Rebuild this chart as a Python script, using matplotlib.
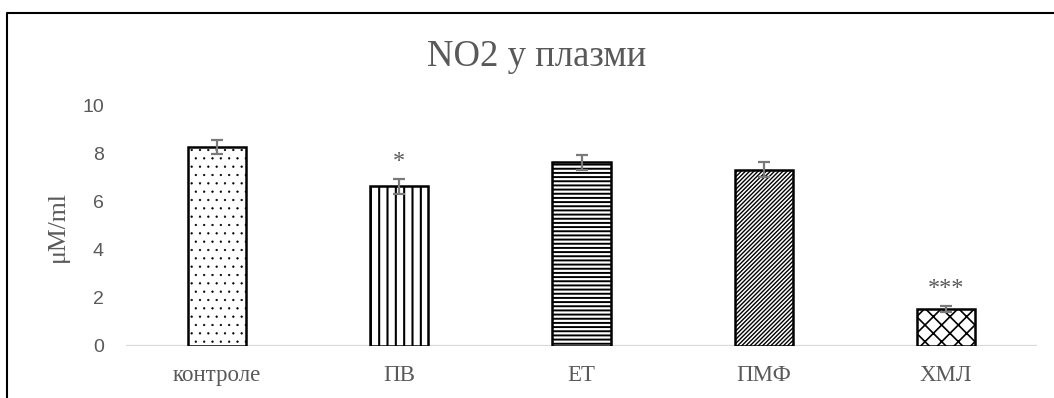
import matplotlib.pyplot as plt
from matplotlib.lines import Line2D

# NO2 in plasma, mean +/- error per group
groups = ["контроле", "ПВ", "ЕТ", "ПМФ", "ХМЛ"]
no2 = [8.3, 6.65, 7.65, 7.35, 1.55]
err = [0.3, 0.3, 0.3, 0.32, 0.12]
marks = ["", "*", "", "", "***"]
hatches = ["..", "||", "----", "////////", "xx"]
hatch_lw = [0.4, 1.5, 1.4, 1.0, 1.2]

plt.rcParams["hatch.color"] = "black"

W, H = 1054, 398
fig = plt.figure(figsize=(W / 100, H / 100), dpi=100)
ax = fig.add_axes([126 / W, 52 / H, (1037 - 126) / W, 240 / H])

x = list(range(len(groups)))
for xi, v, h, hl in zip(x, no2, hatches, hatch_lw):
    plt.rcParams["hatch.linewidth"] = hl
    bar = ax.bar(xi, v, width=0.32, color="white", edgecolor="black",
                 linewidth=1.8, hatch=h, zorder=2)[0]
    if hasattr(bar, "set_hatch_linewidth"):
        bar.set_hatch_linewidth(hl)

ax.errorbar(x, no2, yerr=err, fmt="none", ecolor="#7a7a7a",
            elinewidth=1.6, capsize=4.5, capthick=1.6, zorder=3)

for xi, v, e, m in zip(x, no2, err, marks):
    if m:
        ax.text(xi, v + e + 0.72, m, ha="center", va="center",
                fontsize=17.5, color="#595959", family="Liberation Serif")

ax.set_xlim(-0.5, len(groups) - 0.5)
ax.set_ylim(0, 10)
ax.set_yticks([0, 2, 4, 6, 8, 10])
ax.set_xticks(x)
ax.set_xticklabels(groups, family="Liberation Serif", fontsize=16.5, color="#595959")
for lab in ax.get_yticklabels():
    lab.set_family("Liberation Sans")
    lab.set_fontsize(14)
    lab.set_color("#595959")
ax.tick_params(axis="y", length=0, pad=16)
ax.tick_params(axis="x", length=0, pad=14)

for s in ["top", "right", "left", "bottom"]:
    ax.spines[s].set_visible(False)
ax.axhline(0, color="#d9d9d9", linewidth=1.6, zorder=1)

fig.text(537 / W, 1 - 57 / H, "NO2 у плазми", ha="center", va="center",
         fontsize=26.5, color="#595959", family="Liberation Serif")
fig.text(58 / W, 1 - 227 / H, "μM/ml", ha="center", va="center", rotation=90,
         fontsize=18.5, color="#595959", family="Liberation Serif")

# chart frame (left and top edges)
fig.add_artist(Line2D([7 / W, 7 / W, 1.0], [0, 1 - 13 / H, 1 - 13 / H],
                      transform=fig.transFigure, color="black", linewidth=1.5))

fig.savefig("out.png", dpi=100, facecolor="white")
